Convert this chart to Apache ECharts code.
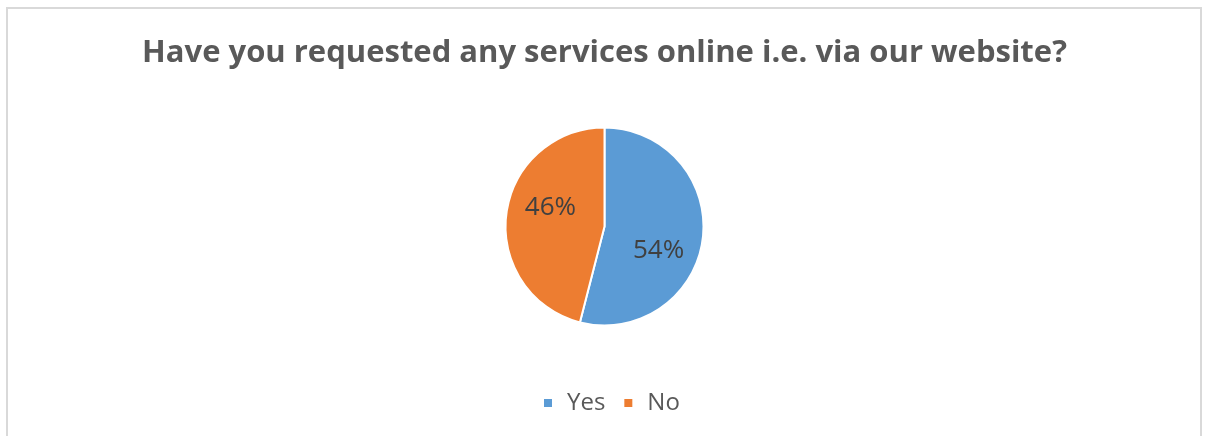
<!DOCTYPE html>
<html>
<head>
<meta charset="utf-8">
<script src="https://cdn.jsdelivr.net/npm/echarts@6/dist/echarts.min.js"></script>
<style>
  html, body { margin: 0; padding: 0; background: #fff; }
  #chart { width: 1209px; height: 436px; }
</style>
</head>
<body>
<div id="chart"></div>
<script>
// Survey answers, in percent
const categories = ['Yes', 'No'];
const shares = [54, 46];
const sliceColors = ['#5B9BD5', '#ED7D31'];
const titleText = 'Have you requested any services online i.e. via our website?';

// Label nudges (px) that place each percentage the way the office chart does
const labelNudges = [[2, 18], [-2, -12]];

const chart = echarts.init(document.getElementById('chart'), null, { renderer: 'canvas' });

chart.setOption({
  backgroundColor: '#ffffff',
  animation: false,
  graphic: [{
    type: 'rect',
    shape: { x: 7, y: 8, width: 1194, height: 440 },
    style: { fill: 'none', stroke: '#d9d9d9', lineWidth: 2 },
    silent: true
  }],
  title: {
    text: titleText,
    left: 'center',
    top: 33,
    textStyle: {
      fontFamily: 'Open Sans',
      fontWeight: 'bold',
      fontSize: 31,
      color: '#595959'
    }
  },
  legend: {
    data: categories,
    bottom: 16,
    left: 539,
    icon: 'rect',
    itemWidth: 8,
    itemHeight: 8,
    itemGap: 19,
    itemStyle: { borderWidth: 0 },
    textStyle: {
      fontFamily: 'Open Sans',
      fontSize: 24,
      color: '#595959',
      padding: [0, 0, 0, 10]
    }
  },
  series: [{
    type: 'pie',
    center: [604.5, 226.5],
    radius: [0, 99],
    startAngle: 90,
    clockwise: true,
    color: sliceColors,
    itemStyle: { borderColor: '#ffffff', borderWidth: 2 },
    label: {
      show: true,
      position: 'inside',
      formatter: '{c}%',
      fontFamily: 'Open Sans',
      fontSize: 26,
      color: '#404040'
    },
    labelLine: { show: false },
    labelLayout: function (params) {
      const n = labelNudges[params.dataIndex];
      return { dx: n[0], dy: n[1] };
    },
    emphasis: { disabled: true },
    data: categories.map((name, i) => ({ name: name, value: shares[i] }))
  }]
});
</script>
</body>
</html>
